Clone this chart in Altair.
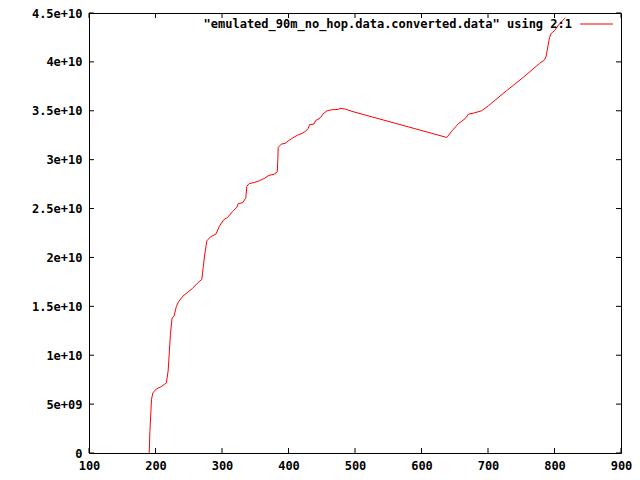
import altair as alt
import pandas as pd

# column 2 on x, column 1 (in units of 1e9) on y
xs = [190.5, 191.6, 194.0, 196.1, 201.5, 208.0, 216.4, 219.0, 220.4, 222.4,
      224.9, 227.9, 231.4, 234.9, 241.3, 248.8, 255.2, 262.7, 269.7, 271.7,
      273.7, 277.2, 282.6, 291.0, 296.1, 302.5, 308.5, 316.0, 322.0, 324.4,
      331.3, 335.8, 337.3, 340.8, 348.3, 355.8, 363.2, 370.7, 378.2, 383.1,
      384.0, 384.5, 389.4, 394.9, 399.3, 405.8, 413.3, 420.7, 425.7, 429.7,
      431.6, 438.2, 440.6, 448.1, 451.6, 458.0, 464.5, 474.5, 478.0, 485.5,
      495.5, 638.1, 645.8, 655.8, 665.7, 670.7, 678.2, 690.5, 700.4, 727.8,
      752.7, 777.6, 785.0, 787.5, 792.5, 795.0, 800.0, 807.5, 816.4]
ys_e9 = [0.0, 2.2, 5.5, 6.15, 6.56, 6.76, 7.17, 8.4, 9.9, 12.1,
         13.8, 14.0, 15.0, 15.5, 16.05, 16.46, 16.8, 17.35, 17.76, 18.95,
         20.15, 21.7, 22.1, 22.4, 23.2, 23.85, 24.1, 24.7, 25.1, 25.5,
         25.6, 26.1, 27.26, 27.56, 27.66, 27.83, 28.07, 28.4, 28.5, 28.75,
         30.05, 31.25, 31.6, 31.66, 31.9, 32.2, 32.5, 32.7, 32.9, 33.2,
         33.57, 33.64, 33.98, 34.3, 34.66, 35.0, 35.1, 35.14, 35.25, 35.17,
         34.94, 32.27, 32.95, 33.7, 34.2, 34.66, 34.76, 35.0, 35.5, 37.05,
         38.4, 39.85, 40.2, 40.6, 42.5, 42.9, 43.2, 43.9, 44.5]

x_ticks = [100, 200, 300, 400, 500, 600, 700, 800, 900]
y_ticks = [0, 5e9, 1e10, 1.5e10, 2e10, 2.5e10, 3e10, 3.5e10, 4e10, 4.5e10]
legend_label = '"emulated_90m_no_hop.data.converted.data" using 2:1'

W, H = 532, 440
FONT = "DejaVu Sans Mono"
TICK = 5

df = pd.DataFrame({"x": xs, "y": [v * 1e9 for v in ys_e9]})
xt = pd.DataFrame({"x": x_ticks})
yt = pd.DataFrame({"y": y_ticks})

xscale = alt.Scale(domain=[100, 900], nice=False)
yscale = alt.Scale(domain=[0, 4.5e10], nice=False)

ylabels = ("datum.value == 0 ? '0' : (datum.value < 1e10 ? "
           "format(datum.value / 1e9, '~g') + 'e+09' : "
           "format(datum.value / 1e10, '~g') + 'e+10')")

label_style = dict(labelFont=FONT, labelFontSize=12, labelFontWeight="bold",
                   labelColor="black", ticks=False, tickSize=0, domain=False,
                   grid=False)

line = alt.Chart(df).mark_line(color="#ff0000", strokeWidth=1).encode(
    x=alt.X("x:Q", scale=xscale, title=None,
            axis=alt.Axis(values=x_ticks, labelPadding=7, labelFlush=False,
                          **label_style)),
    y=alt.Y("y:Q", scale=yscale, title=None,
            axis=alt.Axis(values=y_ticks, labelPadding=7, labelExpr=ylabels,
                          **label_style)),
)

# gnuplot style inward ticks, mirrored on all four sides
bottom = alt.Chart(xt).mark_rule(color="black").encode(
    x=alt.X("x:Q", scale=xscale), y=alt.value(H), y2=alt.value(H - TICK))
top = alt.Chart(xt).mark_rule(color="black").encode(
    x=alt.X("x:Q", scale=xscale), y=alt.value(0), y2=alt.value(TICK))
left = alt.Chart(yt).mark_rule(color="black").encode(
    y=alt.Y("y:Q", scale=yscale), x=alt.value(0), x2=alt.value(TICK))
right = alt.Chart(yt).mark_rule(color="black").encode(
    y=alt.Y("y:Q", scale=yscale), x=alt.value(W), x2=alt.value(W - TICK))

key_text = alt.Chart(pd.DataFrame({"t": [legend_label]})).mark_text(
    align="right", baseline="middle", font=FONT, fontSize=12, fontWeight="bold",
    color="black",
).encode(text="t:N", x=alt.value(483), y=alt.value(11))
key_line = alt.Chart(pd.DataFrame({"t": [legend_label]})).mark_rule(
    color="#ff0000", strokeWidth=1
).encode(x=alt.value(491), x2=alt.value(524), y=alt.value(11))

chart = alt.layer(line, bottom, top, left, right, key_text, key_line).properties(
    width=W, height=H,
    background="white",
    autosize=alt.AutoSizeParams(type="none"),
    padding={"left": 81, "top": 5, "right": 11, "bottom": 19},
).configure_view(
    stroke="black", strokeWidth=1
)

chart.save("out.html", embed_options={"renderer": "svg", "actions": False})
